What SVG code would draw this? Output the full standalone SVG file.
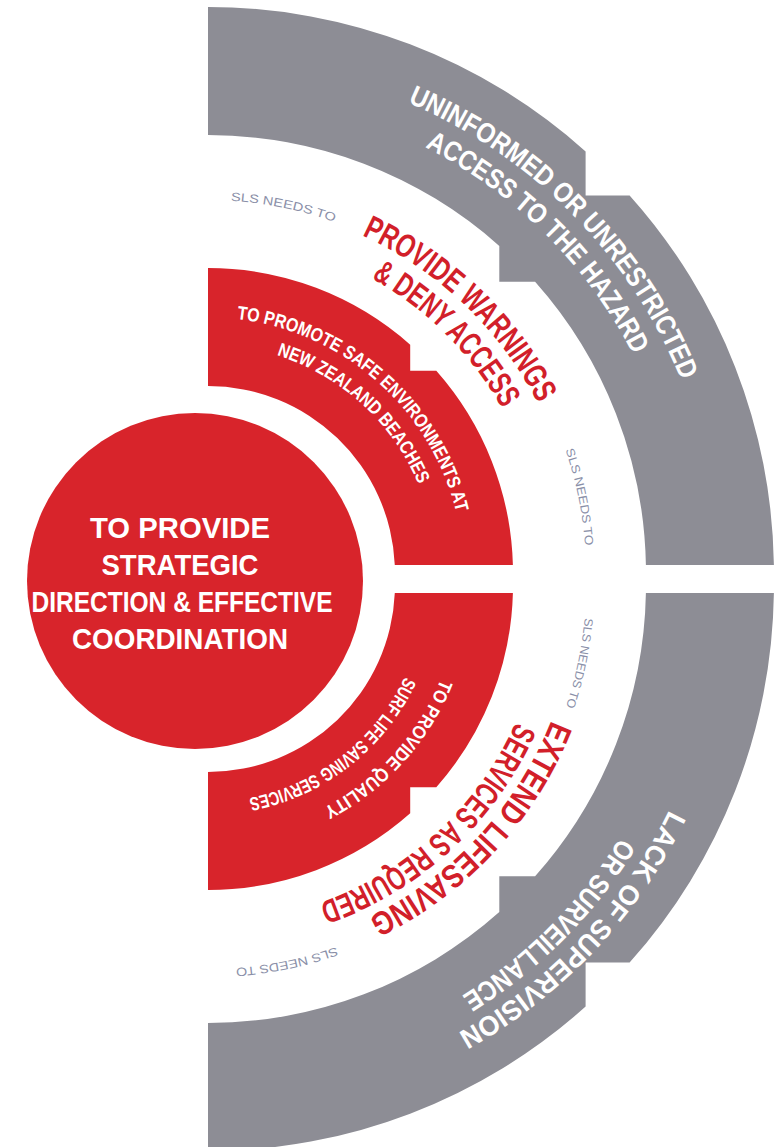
<svg xmlns="http://www.w3.org/2000/svg" width="783" height="1147" viewBox="0 0 783 1147">
  <style>
    .gray { fill: #8d8d95; }
    .red { fill: #d8242b; }
    .t { font-family: "Liberation Sans Narrow", "Liberation Sans", Arial, sans-serif; font-weight: bold; }
    .w { fill: #ffffff; }
    .rt { fill: #d21f2a; }
    .sls { fill: #8a8fa8; font-weight: normal; }
  </style>
  <defs>
    <!-- clockwise baseline arcs, upper half centred at (208,573), lower half at (208,585) -->
    <path id="gTop1" d="M 407.7 102.6 A 511 511 0 0 1 681.8 381.6"/>
    <path id="gTop2" d="M 425.0 147.1 A 478 478 0 0 1 633.9 356.0"/>
    <path id="rTop1" d="M 361.9 235.4 A 371 371 0 0 1 538.6 404.6"/>
    <path id="rTop2" d="M 371.4 278.3 A 337 337 0 0 1 502.7 409.6"/>
    <path id="wTop1" d="M 236.9 319.1 A 255.5 255.5 0 0 1 456.4 513.4"/>
    <path id="wTop2" d="M 276.7 355.1 A 228.5 228.5 0 0 1 419.1 485.6"/>
    <path id="slsA" d="M 230.8 200.7 A 373 373 0 0 1 335.6 222.5"/>
    <path id="slsB" d="M 565.4 449.9 A 378 378 0 0 1 585.1 546.6"/>
    <path id="gBot1" d="M 669.1 809.9 A 513 513 0 0 1 456.7 1033.7"/>
    <path id="gBot2" d="M 619.8 837.4 A 483 483 0 0 1 460.4 996.8"/>
    <path id="rBot1" d="M 551.3 720.2 A 369 369 0 0 1 366.9 918.1"/>
    <path id="rBot2" d="M 515.9 722.1 A 337 337 0 0 1 317.7 903.6"/>
    <path id="wBot1" d="M 440.7 679.0 A 251 251 0 0 1 322.0 808.6"/>
    <path id="wBot2" d="M 404.7 676.7 A 217 217 0 0 1 247.5 798.4"/>
    <path id="slsC" d="M 584.6 617.9 A 378 378 0 0 1 565.4 708.1"/>
    <path id="slsD" d="M 336.2 947.0 A 384 384 0 0 1 234.8 968.1"/>
  </defs>

  <!-- outer grey band, upper quarter -->
  <g id="hazard-access">
    <path class="gray" d="M 208 7 A 566 566 0 0 1 585.6 151.4 L 585.6 195.4 L 629.6 195.4 A 566 566 0 0 1 773.9 565 L 645.9 565 A 438 438 0 0 0 535.1 281.7 L 499.3 281.7 L 499.3 245.9 A 438 438 0 0 0 208 135 Z"/>
    <text class="t w" font-size="28"><textPath href="#gTop1" textLength="400" lengthAdjust="spacingAndGlyphs">UNINFORMED OR UNRESTRICTED</textPath></text>
    <text class="t w" font-size="28"><textPath href="#gTop2" textLength="299" lengthAdjust="spacingAndGlyphs">ACCESS TO THE HAZARD</textPath></text>
  </g>

  <!-- outer grey band, lower quarter -->
  <g id="hazard-supervision">
    <path class="gray" d="M 208 1151 A 566 566 0 0 0 585.6 1006.6 L 585.6 962.6 L 629.6 962.6 A 566 566 0 0 0 773.9 593 L 645.9 593 A 438 438 0 0 1 535.1 876.3 L 499.3 876.3 L 499.3 912.1 A 438 438 0 0 1 208 1023 Z"/>
    <text class="t w" font-size="28"><textPath href="#gBot1" textLength="312" lengthAdjust="spacingAndGlyphs">LACK OF SUPERVISION</textPath></text>
    <text class="t w" font-size="28"><textPath href="#gBot2" textLength="226" lengthAdjust="spacingAndGlyphs">OR SURVEILLANCE</textPath></text>
  </g>

  <!-- inner red band, upper quarter -->
  <g id="safe-environments">
    <path class="red" d="M 208 268 A 305 305 0 0 1 410.2 344.7 L 410.2 370.8 L 436.3 370.8 A 305 305 0 0 1 512.9 565 L 394.8 565 A 187 187 0 0 0 208 386 Z"/>
    <text class="t w" font-size="19"><textPath href="#wTop1" textLength="311" lengthAdjust="spacingAndGlyphs">TO PROMOTE SAFE ENVIRONMENTS AT</textPath></text>
    <text class="t w" font-size="19"><textPath href="#wTop2" textLength="198" lengthAdjust="spacingAndGlyphs">NEW ZEALAND BEACHES</textPath></text>
  </g>

  <!-- inner red band, lower quarter -->
  <g id="quality-services">
    <path class="red" d="M 208 890 A 305 305 0 0 0 410.2 813.3 L 410.2 787.2 L 436.3 787.2 A 305 305 0 0 0 512.9 593 L 394.8 593 A 187 187 0 0 1 208 772 Z"/>
    <text class="t w" font-size="19"><textPath href="#wBot1" textLength="178" lengthAdjust="spacingAndGlyphs">TO PROVIDE QUALITY</textPath></text>
    <text class="t w" font-size="19"><textPath href="#wBot2" textLength="205" lengthAdjust="spacingAndGlyphs">SURF LIFE SAVING SERVICES</textPath></text>
  </g>

  <!-- actions in the white ring -->
  <g id="warnings-action">
    <text class="t sls" font-size="12"><textPath href="#slsA" textLength="106" lengthAdjust="spacingAndGlyphs">SLS NEEDS TO</textPath></text>
    <text class="t rt" font-size="33"><textPath href="#rTop1" textLength="248" lengthAdjust="spacingAndGlyphs">PROVIDE WARNINGS</textPath></text>
    <text class="t rt" font-size="33"><textPath href="#rTop2" textLength="187" lengthAdjust="spacingAndGlyphs">&amp; DENY ACCESS</textPath></text>
    <text class="t sls" font-size="12"><textPath href="#slsB" textLength="98" lengthAdjust="spacingAndGlyphs">SLS NEEDS TO</textPath></text>
  </g>

  <g id="lifesaving-action">
    <text class="t sls" font-size="12"><textPath href="#slsC" textLength="91" lengthAdjust="spacingAndGlyphs">SLS NEEDS TO</textPath></text>
    <text class="t rt" font-size="33"><textPath href="#rBot1" textLength="275" lengthAdjust="spacingAndGlyphs">EXTEND LIFESAVING</textPath></text>
    <text class="t rt" font-size="33"><textPath href="#rBot2" textLength="275" lengthAdjust="spacingAndGlyphs">SERVICES AS REQUIRED</textPath></text>
    <text class="t sls" font-size="12"><textPath href="#slsD" textLength="103" lengthAdjust="spacingAndGlyphs">SLS NEEDS TO</textPath></text>
  </g>

  <!-- central disc -->
  <g id="strategic-direction">
    <circle class="red" cx="195" cy="581" r="168"/>
    <g class="t w" font-size="30" text-anchor="middle">
      <text x="180" y="538" textLength="180" lengthAdjust="spacingAndGlyphs">TO PROVIDE</text>
      <text x="180" y="575" textLength="157" lengthAdjust="spacingAndGlyphs">STRATEGIC</text>
      <text x="182" y="612" textLength="301" lengthAdjust="spacingAndGlyphs">DIRECTION &amp; EFFECTIVE</text>
      <text x="180" y="649" textLength="216" lengthAdjust="spacingAndGlyphs">COORDINATION</text>
    </g>
  </g>
</svg>
